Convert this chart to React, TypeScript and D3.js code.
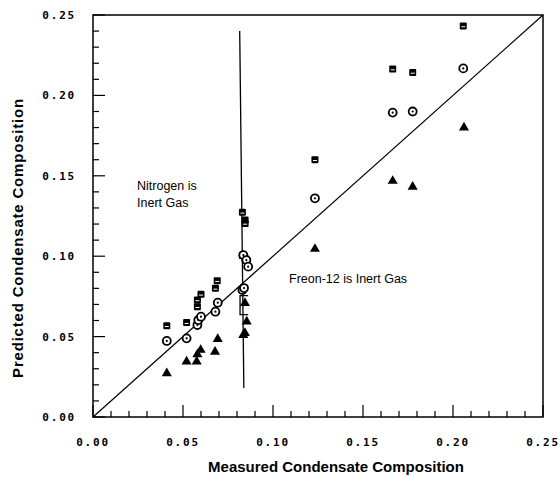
import * as d3 from "d3";

// measured vs predicted condensate composition, three models per measured point
const squareX = [0.041, 0.052, 0.058, 0.058, 0.060, 0.068, 0.069, 0.083, 0.0845, 0.0845, 0.083, 0.0845, 0.1233, 0.1665, 0.1776, 0.2057];
const squareY = [0.0568, 0.0587, 0.0686, 0.0728, 0.0763, 0.080, 0.0848, 0.1273, 0.1225, 0.1204, 0.1005, 0.0985, 0.160, 0.2164, 0.2143, 0.2432];

const circleX = [0.041, 0.052, 0.058, 0.0585, 0.060, 0.068, 0.0693, 0.083, 0.0835, 0.0852, 0.0862, 0.0839, 0.1233, 0.1665, 0.1776, 0.2057];
const circleY = [0.0473, 0.0489, 0.0572, 0.0603, 0.0624, 0.0655, 0.0711, 0.079, 0.1007, 0.0976, 0.0935, 0.0802, 0.136, 0.1893, 0.190, 0.2168];

const triX = [0.041, 0.052, 0.0576, 0.058, 0.0598, 0.0678, 0.0693, 0.0835, 0.0844, 0.0854, 0.0844, 0.1233, 0.1665, 0.1776, 0.2061];
const triY = [0.0272, 0.0344, 0.0344, 0.039, 0.0417, 0.0406, 0.0485, 0.051, 0.0709, 0.0593, 0.0522, 0.1045, 0.1468, 0.1432, 0.180];

const tickValues = [0, 0.05, 0.1, 0.15, 0.2, 0.25];
const minorTicks = d3.range(0, 26).map((i) => i / 100);

// vertical separator line and small bracket (data coords)
const dividerX = [0.0815, 0.0838];
const dividerY = [0.24, 0.018];
const bracketX = [0.0862, 0.0817, 0.0817, 0.0862];
const bracketY = [0.0755, 0.0755, 0.0637, 0.0637];

const W = 560;
const H = 477;

export default function App() {
  const x = d3.scaleLinear().domain([0, 0.25]).range([93, 543]);
  const y = d3.scaleLinear().domain([0, 0.25]).range([417, 15]);
  const fmt = d3.format(".2f");
  const tickFont = "'DejaVu Sans Mono', monospace";
  const titleFont = "'Liberation Sans', Arial, sans-serif";

  const line = d3
    .line<[number, number]>()
    .x((d) => x(d[0]))
    .y((d) => y(d[1]));

  const isMajor = (v: number) => Math.abs(Math.round(v * 100) % 5) === 0;

  const triPath = d3.symbol(d3.symbolTriangle, 44)()!;

  return (
    <svg
      width={W}
      height={H}
      style={{ position: "absolute", left: 0, top: 0, background: "#fff" }}
    >
      {/* frame */}
      <rect
        x={x(0)}
        y={y(0.25)}
        width={x(0.25) - x(0)}
        height={y(0) - y(0.25)}
        fill="none"
        stroke="#000"
        strokeWidth={1.5}
      />

      {/* left ticks */}
      {minorTicks.map((v) => (
        <line
          key={"ly" + v}
          x1={x(0)}
          x2={x(0) + (isMajor(v) ? 12 : 6)}
          y1={y(v)}
          y2={y(v)}
          stroke="#000"
          strokeWidth={1.2}
        />
      ))}
      {/* bottom ticks */}
      {minorTicks.map((v) => (
        <line
          key={"bx" + v}
          x1={x(v)}
          x2={x(v)}
          y1={y(0)}
          y2={y(0) - (isMajor(v) ? 12 : 6)}
          stroke="#000"
          strokeWidth={1.2}
        />
      ))}

      {tickValues.map((v) => (
        <text
          key={"yl" + v}
          x={76}
          y={y(v) + 4}
          textAnchor="end"
          fontFamily={tickFont}
          fontWeight="bold"
          fontSize={11}
          letterSpacing={1.8}
        >
          {fmt(v)}
        </text>
      ))}
      {tickValues.map((v) => (
        <text
          key={"xl" + v}
          x={x(v)}
          y={446}
          textAnchor="middle"
          fontFamily={tickFont}
          fontWeight="bold"
          fontSize={11}
          letterSpacing={1.8}
        >
          {fmt(v)}
        </text>
      ))}

      {/* axis titles */}
      <text
        x={336}
        y={472}
        textAnchor="middle"
        fontFamily={titleFont}
        fontWeight="bold"
        fontSize={15}
      >
        Measured Condensate Composition
      </text>
      <text
        transform={`translate(23, 238) rotate(-90)`}
        textAnchor="middle"
        fontFamily={titleFont}
        fontWeight="bold"
        fontSize={15}
        letterSpacing={0.8}
      >
        Predicted Condensate Composition
      </text>

      {/* 45 degree line */}
      <path d={line([[0, 0], [0.25, 0.25]])!} stroke="#000" strokeWidth={1.2} fill="none" />

      {/* divider and bracket */}
      <path
        d={line(dividerX.map((v, i) => [v, dividerY[i]] as [number, number]))!}
        stroke="#000"
        strokeWidth={1.3}
        fill="none"
      />
      <path
        d={line(bracketX.map((v, i) => [v, bracketY[i]] as [number, number]))!}
        stroke="#000"
        strokeWidth={1.3}
        fill="none"
      />

      {/* annotations */}
      <text x={137} y={190} fontFamily={titleFont} fontSize={12.5}>
        Nitrogen is
      </text>
      <text x={137} y={207} fontFamily={titleFont} fontSize={12.5}>
        Inert Gas
      </text>
      <text x={289} y={283} fontFamily={titleFont} fontSize={12.5}>
        Freon-12 is Inert Gas
      </text>

      {/* squares */}
      {squareX.map((v, i) => (
        <g key={"s" + i} transform={`translate(${x(v)},${y(squareY[i])})`}>
          <rect x={-3.5} y={-3.5} width={7} height={7} fill="#000" rx={1} />
          <rect x={-2} y={0.3} width={4} height={1} fill="#fff" />
        </g>
      ))}

      {/* circles */}
      {circleX.map((v, i) => (
        <g key={"c" + i} transform={`translate(${x(v)},${y(circleY[i])})`}>
          <circle r={4} fill="#fff" stroke="#000" strokeWidth={1.8} />
          <circle r={1.1} fill="#000" />
        </g>
      ))}

      {/* triangles */}
      {triX.map((v, i) => (
        <path
          key={"t" + i}
          d={triPath}
          transform={`translate(${x(v)},${y(triY[i])})`}
          fill="#000"
        />
      ))}
    </svg>
  );
}
